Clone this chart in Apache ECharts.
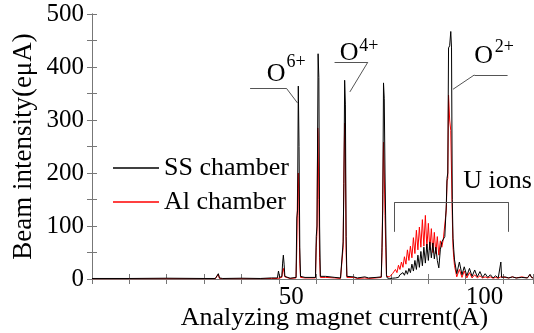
<!DOCTYPE html>
<html>
<head>
<meta charset="utf-8">
<script src="https://cdn.jsdelivr.net/npm/echarts@6/dist/echarts.min.js"></script>
<style>
html,body{margin:0;padding:0;background:#fff;}
#chart{width:534px;height:333px;}
</style>
</head>
<body>
<div id="chart"></div>
<script>
// ---- data ----
const current = [
  0, 10, 20, 30, 33.0, 33.5, 33.8, 34.1, 35, 40,
  45, 48, 49.6, 49.9, 50.2, 50.8, 51.0, 51.2, 51.4, 51.6,
  52, 53, 54.6, 54.8, 55.0, 55.2, 55.4, 55.6, 55.8, 56.0,
  57, 57.5, 59.8, 60.0, 60.2, 60.4, 60.5, 60.7, 60.9, 61.1,
  61.5, 62.5, 63, 65, 66.5, 67.0, 67.2, 67.4, 67.6, 67.8,
  68.0, 68.2, 68.6, 70, 71, 73, 74, 76, 77.4, 77.6,
  77.8, 78.0, 78.2, 78.4, 78.6, 78.8, 79.0,
  79.2, 79.6, 80.0, 80.4, 80.8, 81.2, 81.6, 82.0, 82.4, 82.8,
  83.2, 83.6, 84.0, 84.4, 84.8, 85.2, 85.6, 86.0, 86.4, 86.8,
  87.2, 87.6, 88.0, 88.4, 88.8, 89.2, 89.6, 90.0, 90.4, 90.8,
  91.2, 91.6, 92.0, 92.4, 92.8, 93.2, 93.6, 94.0,
  94.4, 94.8, 95.0, 95.2, 95.4, 95.7, 96.0, 96.2, 96.4, 96.6, 96.8,
  97.0, 97.6, 98.3, 99.0, 99.6, 100.3, 101.0, 101.7, 102.4, 103.1,
  103.8, 104.5, 105.2, 105.9, 106.6, 107.3, 108.0, 108.7, 109.2, 109.4,
  109.6, 110.5, 111.5, 112.5, 113.5, 115, 116.5, 117.2, 117.6, 118
];
const ssIntensity = [
  1, 1, 1.5, 1, 1, 3, 10, 2, 1, 1.5,
  1, 2, 2, 15, 3, 5, 30, 45, 28, 5,
  2, 1.5, 3, 115, 130, 364, 250, 60, 5, 2,
  3, 1.5, 3, 80, 100, 300, 425, 380, 100, 5,
  2, 5, 2, 3, 2, 3, 70, 180, 375, 330,
  80, 5, 2, 4, 2, 4, 2, 3, 4, 60,
  130, 370, 340, 200, 100, 8, 2,
  1, 1, 2, 1.5, 3, 2, 5, 3, 8, 5,
  12, 7, 16, 9, 20, 12, 28, 15, 35, 18,
  45, 22, 52, 25, 60, 30, 66, 35, 70, 40,
  68, 38, 60, 35, 21, 55, 70, 68,
  80, 140, 190, 200, 436, 440, 467, 436, 150, 77, 55,
  36, 10, 32, 8, 23, 6, 20, 5, 17, 4,
  14, 3, 10, 3, 8, 2, 6, 2, 3, 32,
  3, 4, 2, 4, 2, 3, 2, 9, 3, 2
];
const alIntensity = [
  0.5, 0.5, 0.5, 0.5, 0.5, 2, 9, 1, 0.5, 0.5,
  0.5, 1, 1, 4, 2, 3, 15, 20, 12, 4,
  1, 1, 2, 60, 170, 200, 120, 30, 3, 1,
  2, 1, 2, 60, 90, 285, 270, 150, 40, 3,
  1, 3, 1, 2, 1, 2, 60, 200, 294, 230,
  50, 3, 1, 3, 1, 2, 1, 2, 3, 50,
  160, 258, 200, 120, 60, 5, 2,
  2, 4, 5, 10, 8, 18, 12, 26, 18, 32,
  22, 42, 28, 55, 35, 62, 40, 78, 48, 92,
  55, 98, 60, 112, 62, 120, 58, 105, 55, 95,
  50, 88, 48, 80, 45, 72, 60, 75,
  78, 130, 185, 190, 347, 300, 280, 200, 120, 60, 40,
  25, 4, 18, 3, 15, 2, 12, 2, 8, 2,
  6, 2, 4, 2, 4, 1.5, 3, 1.5, 2, 4,
  2, 3, 2, 4, 2, 4, 2, 8, 3, 2
];
const seriesNames = ['SS chamber', 'Al chamber'];
const xTickLabels = [50, 100];
const yTickLabels = [0, 100, 200, 300, 400, 500];

// annotation leader lines (data coordinates)
const leaderLines = [
  [[42.3, 360], [52.0, 360]], [[52.0, 360], [55.0, 332]],
  [[64.9, 409], [73.8, 409]], [[73.8, 409], [69.0, 353]],
  [[96.6, 358], [102.3, 385]], [[102.3, 385], [111.2, 385]],
  [[81.0, 89], [81.0, 145]], [[81.0, 145], [111.4, 145]], [[111.4, 145], [111.4, 89]]
];
// annotation texts: [text, x, y, fontSize]
const annotationTexts = [
  ['O', 49.3, 387, 26], ['6+', 54.6, 408, 18],
  ['O', 68.8, 427, 26], ['4+', 74.1, 440, 18],
  ['O', 104.8, 421, 26], ['2+', 110.3, 438, 18],
  ['U ions', 108.5, 185, 26]
];

const FONT = "'Liberation Serif','Times New Roman',serif";
const AXIS_COLOR = '#777';

const ssData = current.map((x, i) => [x, ssIntensity[i]]);
const alData = current.map((x, i) => [x, alIntensity[i]]);

const chart = echarts.init(document.getElementById('chart'), null, {renderer: 'canvas'});

const commonX = {
  type: 'value', min: 0, max: 118, interval: 10,
  axisLine: {show: true, lineStyle: {color: AXIS_COLOR, width: 1}},
  axisTick: {show: true, inside: true, length: 5, lineStyle: {color: AXIS_COLOR}},
  splitLine: {show: false}
};
const commonY = {
  type: 'value', min: 0, max: 500, interval: 50,
  axisLine: {show: true, lineStyle: {color: AXIS_COLOR, width: 1}},
  axisTick: {show: true, inside: true, length: 5, lineStyle: {color: AXIS_COLOR}},
  splitLine: {show: false}
};

const option = {
  animation: false,
  backgroundColor: '#fff',
  textStyle: {fontFamily: FONT},
  grid: {left: 92, right: 1, top: 14, bottom: 54, containLabel: false, outerBoundsMode: 'none'},
  legend: {
    data: seriesNames,
    orient: 'vertical', left: 108, top: 150,
    itemWidth: 46, itemHeight: 1.5, itemGap: 8, icon: 'rect',
    textStyle: {fontSize: 26, color: '#000', fontFamily: FONT}
  },
  xAxis: [
    Object.assign({}, commonX, {
      position: 'bottom',
      axisLabel: {
        color: '#000', fontSize: 25, fontFamily: FONT, align: 'left', margin: 6,
        formatter: v => xTickLabels.indexOf(v) >= 0 ? String(v) : ''
      },
      name: 'Analyzing magnet current(A)', nameLocation: 'middle', nameGap: 26,
      nameMoveOverlap: false,
      nameTextStyle: {fontSize: 26, color: '#000', fontFamily: FONT, padding: [0, 0, 0, 44]}
    }),
    Object.assign({}, commonX, {position: 'top', axisLabel: {show: false}})
  ],
  yAxis: [
    Object.assign({}, commonY, {
      position: 'left',
      axisLabel: {
        color: '#000', fontSize: 25, fontFamily: FONT, margin: 8,
        formatter: v => yTickLabels.indexOf(v) >= 0 ? String(v) : ''
      },
      name: 'Beam intensity(eμA)', nameLocation: 'middle', nameGap: 55,
      nameMoveOverlap: false,
      nameTextStyle: {fontSize: 27, color: '#000', fontFamily: FONT}
    }),
    Object.assign({}, commonY, {position: 'right', axisLabel: {show: false}})
  ],
  series: [
    {
      name: 'Al chamber', type: 'line', data: alData, color: '#ff0000',
      showSymbol: false, symbol: 'none', lineStyle: {width: 1, color: '#ff0000'},
      xAxisIndex: 0, yAxisIndex: 0, z: 2
    },
    {
      name: 'SS chamber', type: 'line', data: ssData, color: '#000000',
      showSymbol: false, symbol: 'none', lineStyle: {width: 1, color: '#000000'},
      xAxisIndex: 0, yAxisIndex: 0, z: 3,
      markLine: {
        silent: true, symbol: ['none', 'none'], animation: false,
        lineStyle: {color: '#555', width: 1, type: 'solid'},
        label: {show: false},
        data: leaderLines.map(seg => [{coord: seg[0]}, {coord: seg[1]}])
      }
    }
  ]
};
chart.setOption(option);

const graphics = annotationTexts.map(t => {
  const p = chart.convertToPixel({gridIndex: 0}, [t[1], t[2]]);
  return {
    type: 'text', x: p[0], y: p[1], z: 10,
    style: {text: t[0], fontSize: t[3], fontFamily: FONT, fill: '#000', align: 'center', verticalAlign: 'middle'}
  };
});
chart.setOption({graphic: graphics});
</script>
</body>
</html>
